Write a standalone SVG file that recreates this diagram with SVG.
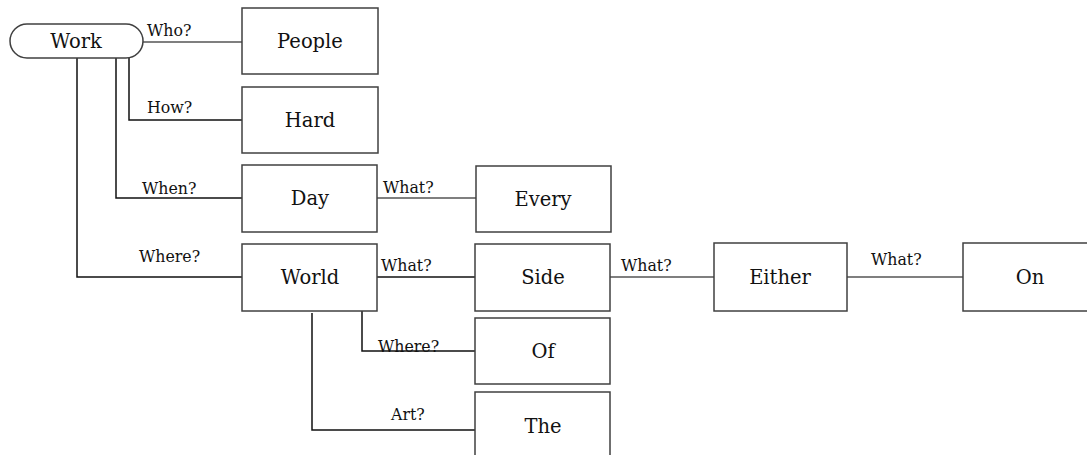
<svg xmlns="http://www.w3.org/2000/svg" width="1087" height="455" viewBox="0 0 1087 455">
<style>
.box{fill:#fff;stroke:#404040;stroke-width:1.5}
.nt{font-family:"DejaVu Serif",serif;font-size:19.5px;fill:#111;text-anchor:middle}
.lt{font-family:"DejaVu Serif",serif;font-size:15.8px;fill:#111}
.c1{fill:none;stroke:#555;stroke-width:1.3}
.c2{fill:none;stroke:#111;stroke-width:1.5}
</style>
<rect width="1087" height="455" fill="#fff"/>
<g id="connectors">
<line class="c1" x1="143" y1="42" x2="242" y2="42"/>
<polyline class="c2" points="129,58 129,120 242,120"/>
<polyline class="c2" points="116,58 116,198 242,198"/>
<polyline class="c2" points="77,58 77,277 242,277"/>
<line class="c1" x1="377" y1="198" x2="476" y2="198"/>
<line class="c2" x1="377" y1="277" x2="475" y2="277"/>
<polyline class="c2" points="362,311 362,351 475,351"/>
<polyline class="c2" points="312,313 312,430 475,430"/>
<line class="c1" x1="610" y1="277" x2="714" y2="277"/>
<line class="c1" x1="847" y1="277" x2="963" y2="277"/>
<text class="lt" x="147" y="36">Who?</text>
<text class="lt" x="147" y="113">How?</text>
<text class="lt" x="142" y="194">When?</text>
<text class="lt" x="139" y="262">Where?</text>
<text class="lt" x="383" y="193">What?</text>
<text class="lt" x="381" y="271">What?</text>
<text class="lt" x="378" y="352">Where?</text>
<text class="lt" x="391" y="420">Art?</text>
<text class="lt" x="621" y="271">What?</text>
<text class="lt" x="871" y="265">What?</text>
</g>
<g id="n-work"><rect class="box" x="10" y="24" width="133" height="34" rx="17"/><text class="nt" x="76" y="48">Work</text></g>
<g id="n-people"><rect class="box" x="242" y="8" width="136" height="66"/><text class="nt" x="310" y="48">People</text></g>
<g id="n-hard"><rect class="box" x="242" y="87" width="136" height="66"/><text class="nt" x="310" y="127">Hard</text></g>
<g id="n-day"><rect class="box" x="242" y="165" width="135" height="67"/><text class="nt" x="310" y="205">Day</text></g>
<g id="n-world"><rect class="box" x="242" y="244" width="135" height="67"/><text class="nt" x="310" y="284">World</text></g>
<g id="n-every"><rect class="box" x="476" y="166" width="135" height="66"/><text class="nt" x="543" y="206">Every</text></g>
<g id="n-side"><rect class="box" x="475" y="244" width="135" height="67"/><text class="nt" x="543" y="284">Side</text></g>
<g id="n-of"><rect class="box" x="475" y="318" width="135" height="66"/><text class="nt" x="543" y="358">Of</text></g>
<g id="n-the"><rect class="box" x="475" y="392" width="135" height="70"/><text class="nt" x="543" y="433">The</text></g>
<g id="n-either"><rect class="box" x="714" y="243" width="133" height="68"/><text class="nt" x="780" y="284">Either</text></g>
<g id="n-on"><rect class="box" x="963" y="243" width="135" height="68"/><text class="nt" x="1030" y="284">On</text></g>
</svg>
